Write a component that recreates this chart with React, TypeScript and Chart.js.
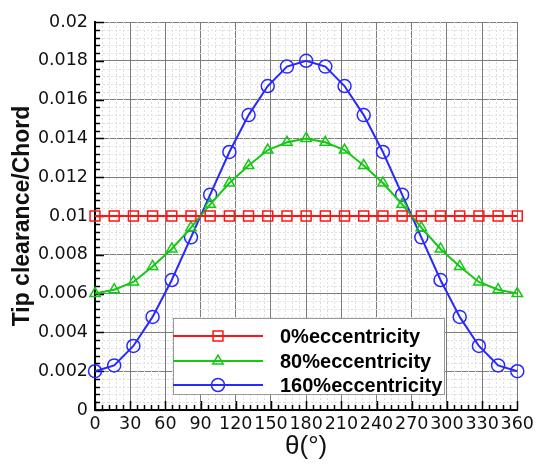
import React, { useEffect, useRef } from 'react';
import { Chart, registerables } from 'chart.js';

Chart.register(...registerables);

// θ positions (degrees) of the sampled points
const thetaDeg = [0, 16.36, 32.73, 49.09, 65.45, 81.82, 98.18, 114.55, 130.91, 147.27, 163.64, 180,
  196.36, 212.73, 229.09, 245.45, 261.82, 278.18, 294.55, 310.91, 327.27, 343.64, 360];

const ecc0 = [0.01, 0.01, 0.01, 0.01, 0.01, 0.01, 0.01, 0.01, 0.01, 0.01, 0.01, 0.01,
  0.01, 0.01, 0.01, 0.01, 0.01, 0.01, 0.01, 0.01, 0.01, 0.01, 0.01];
const ecc80 = [0.006, 0.0062, 0.0066, 0.0074, 0.0083, 0.0094, 0.0106, 0.0117, 0.0126, 0.0134, 0.0138, 0.014,
  0.0138, 0.0134, 0.0126, 0.0117, 0.0106, 0.0094, 0.0083, 0.0074, 0.0066, 0.0062, 0.006];
const ecc160 = [0.002, 0.0023, 0.0033, 0.0048, 0.0067, 0.0089, 0.0111, 0.0133, 0.0152, 0.0167, 0.0177, 0.018,
  0.0177, 0.0167, 0.0152, 0.0133, 0.0111, 0.0089, 0.0067, 0.0048, 0.0033, 0.0023, 0.002];

const seriesLabels = ['0%eccentricity', '80%eccentricity', '160%eccentricity'];
const seriesColors = ['rgb(255,20,20)', 'rgb(20,200,20)', 'rgb(40,40,255)'];
const seriesMarkers = ['rect', 'triangle', 'circle'];
const markerRadius = [7, 6, 6.5];

const X_MIN = 0, X_MAX = 360, X_STEP = 30;
const Y_MIN = 0, Y_MAX = 0.02, Y_STEP = 0.002;
const MINOR_DIV = 5;

function drawMarker(ctx: CanvasRenderingContext2D, style: string, x: number, y: number, r: number) {
  ctx.beginPath();
  if (style === 'rect') {
    const s = Math.SQRT1_2 * r;
    ctx.rect(x - s, y - s, 2 * s, 2 * s);
  } else if (style === 'triangle') {
    let rad = 0;
    ctx.moveTo(x + Math.sin(rad) * r, y - Math.cos(rad) * r);
    rad += (2 * Math.PI) / 3;
    ctx.lineTo(x + Math.sin(rad) * r, y - Math.cos(rad) * r);
    rad += (2 * Math.PI) / 3;
    ctx.lineTo(x + Math.sin(rad) * r, y - Math.cos(rad) * r);
    ctx.closePath();
  } else {
    ctx.arc(x, y, r, 0, Math.PI * 2);
  }
  ctx.stroke();
}

const decorPlugin = {
  id: 'decor',
  beforeDatasetsDraw(chart: any) {
    const { ctx, chartArea: a, scales } = chart;
    const xs = scales.x, ys = scales.y;
    ctx.save();
    // minor dotted grid
    ctx.strokeStyle = '#dedede';
    ctx.lineWidth = 1;
    ctx.setLineDash([2, 2]);
    const xMinor = X_STEP / MINOR_DIV;
    const nx = Math.round((X_MAX - X_MIN) / xMinor);
    for (let i = 0; i <= nx; i++) {
      if (i % MINOR_DIV === 0) continue;
      const px = Math.round(xs.getPixelForValue(X_MIN + i * xMinor)) + 0.5;
      ctx.beginPath(); ctx.moveTo(px, a.top); ctx.lineTo(px, a.bottom); ctx.stroke();
    }
    const yMinor = Y_STEP / MINOR_DIV;
    const ny = Math.round((Y_MAX - Y_MIN) / yMinor);
    for (let i = 0; i <= ny; i++) {
      if (i % MINOR_DIV === 0) continue;
      const py = Math.round(ys.getPixelForValue(Y_MIN + i * yMinor)) + 0.5;
      ctx.beginPath(); ctx.moveTo(a.left, py); ctx.lineTo(a.right, py); ctx.stroke();
    }
    ctx.setLineDash([]);
    // inward ticks
    ctx.strokeStyle = '#000';
    ctx.lineWidth = 1.5;
    for (let i = 0; i <= nx; i++) {
      const len = i % MINOR_DIV === 0 ? 9 : 5;
      const px = Math.round(xs.getPixelForValue(X_MIN + i * xMinor)) + 0.5;
      ctx.beginPath(); ctx.moveTo(px, a.bottom); ctx.lineTo(px, a.bottom - len); ctx.stroke();
    }
    for (let i = 0; i <= ny; i++) {
      const len = i % MINOR_DIV === 0 ? 9 : 5;
      const py = Math.round(ys.getPixelForValue(Y_MIN + i * yMinor)) + 0.5;
      ctx.beginPath(); ctx.moveTo(a.left, py); ctx.lineTo(a.left + len, py); ctx.stroke();
    }
    ctx.restore();
  },
  afterDraw(chart: any) {
    const { ctx } = chart;
    const bx = 173, by = 318, bw = 271, bh = 76;
    ctx.save();
    ctx.fillStyle = '#fff';
    ctx.fillRect(bx, by, bw, bh);
    ctx.strokeStyle = '#999';
    ctx.lineWidth = 1;
    ctx.strokeRect(bx + 0.5, by + 0.5, bw, bh);
    const rows = [336, 361, 385];
    chart.data.datasets.forEach((ds: any, i: number) => {
      const y = rows[i];
      ctx.strokeStyle = ds.borderColor;
      ctx.lineWidth = 2;
      ctx.beginPath(); ctx.moveTo(bx, y); ctx.lineTo(bx + 90, y); ctx.stroke();
      ctx.lineWidth = 1.5;
      drawMarker(ctx, ds.pointStyle, bx + 45, y, ds.pointRadius);
      ctx.fillStyle = '#000';
      ctx.font = 'bold 20px "Liberation Sans", Arial, sans-serif';
      ctx.textBaseline = 'middle';
      ctx.textAlign = 'left';
      ctx.fillText(ds.label, bx + 107, y + 1);
    });
    ctx.restore();
  },
};

export default function App() {
  const canvasRef = useRef<HTMLCanvasElement | null>(null);

  useEffect(() => {
    if (!canvasRef.current) return;
    const seriesValues = [ecc0, ecc80, ecc160];
    const chart = new Chart(canvasRef.current, {
      type: 'line',
      data: {
        datasets: seriesValues.map((vals, i) => ({
          label: seriesLabels[i],
          data: thetaDeg.map((t, j) => ({ x: t, y: vals[j] })),
          borderColor: seriesColors[i],
          borderWidth: 2,
          pointStyle: seriesMarkers[i] as any,
          pointRadius: markerRadius[i],
          pointBorderWidth: 1.5,
          pointBorderColor: seriesColors[i],
          pointBackgroundColor: 'rgba(0,0,0,0)',
          tension: 0,
          clip: false as any,
          fill: false,
        })),
      },
      options: {
        responsive: false,
        animation: false,
        devicePixelRatio: 1,
        layout: { padding: { left: 0, top: 22, right: 17, bottom: 0 } },
        plugins: {
          legend: { display: false },
          tooltip: { enabled: false },
        },
        scales: {
          x: {
            type: 'linear',
            min: X_MIN,
            max: X_MAX,
            afterFit: (s: any) => { s.height = 57; },
            grid: { color: '#7c7c7c', lineWidth: 1, drawTicks: false },
            border: { display: true, color: '#000', width: 2 },
            ticks: {
              stepSize: X_STEP,
              autoSkip: false,
              maxRotation: 0,
              minRotation: 0,
              padding: 4,
              color: '#111',
              font: { family: '"DejaVu Sans", sans-serif', size: 17.5 },
            },
            title: {
              display: true,
              text: 'θ(°)',
              color: '#111',
              font: { family: '"Liberation Sans", Arial, sans-serif', size: 26 },
              padding: { top: 0, bottom: 5 },
            },
          },
          y: {
            type: 'linear',
            min: Y_MIN,
            max: Y_MAX,
            afterFit: (s: any) => { s.width = 95; },
            grid: { color: '#7c7c7c', lineWidth: 1, drawTicks: false },
            border: { display: true, color: '#000', width: 2 },
            ticks: {
              stepSize: Y_STEP,
              padding: 7,
              color: '#111',
              font: { family: '"DejaVu Sans", sans-serif', size: 17.5 },
              callback: (v: any) => String(parseFloat(Number(v).toFixed(4))),
            },
            title: {
              display: true,
              text: 'Tip clearance/Chord',
              color: '#111',
              font: { family: '"Liberation Sans", Arial, sans-serif', size: 23, weight: 'bold' },
              padding: { top: 9, bottom: 0 },
            },
          },
        },
      },
      plugins: [decorPlugin],
    });
    return () => chart.destroy();
  }, []);

  return (
    <div style={{ position: 'absolute', left: 0, top: 0, width: 538, height: 467, background: '#fff' }}>
      <canvas ref={canvasRef} width={538} height={467} />
    </div>
  );
}
